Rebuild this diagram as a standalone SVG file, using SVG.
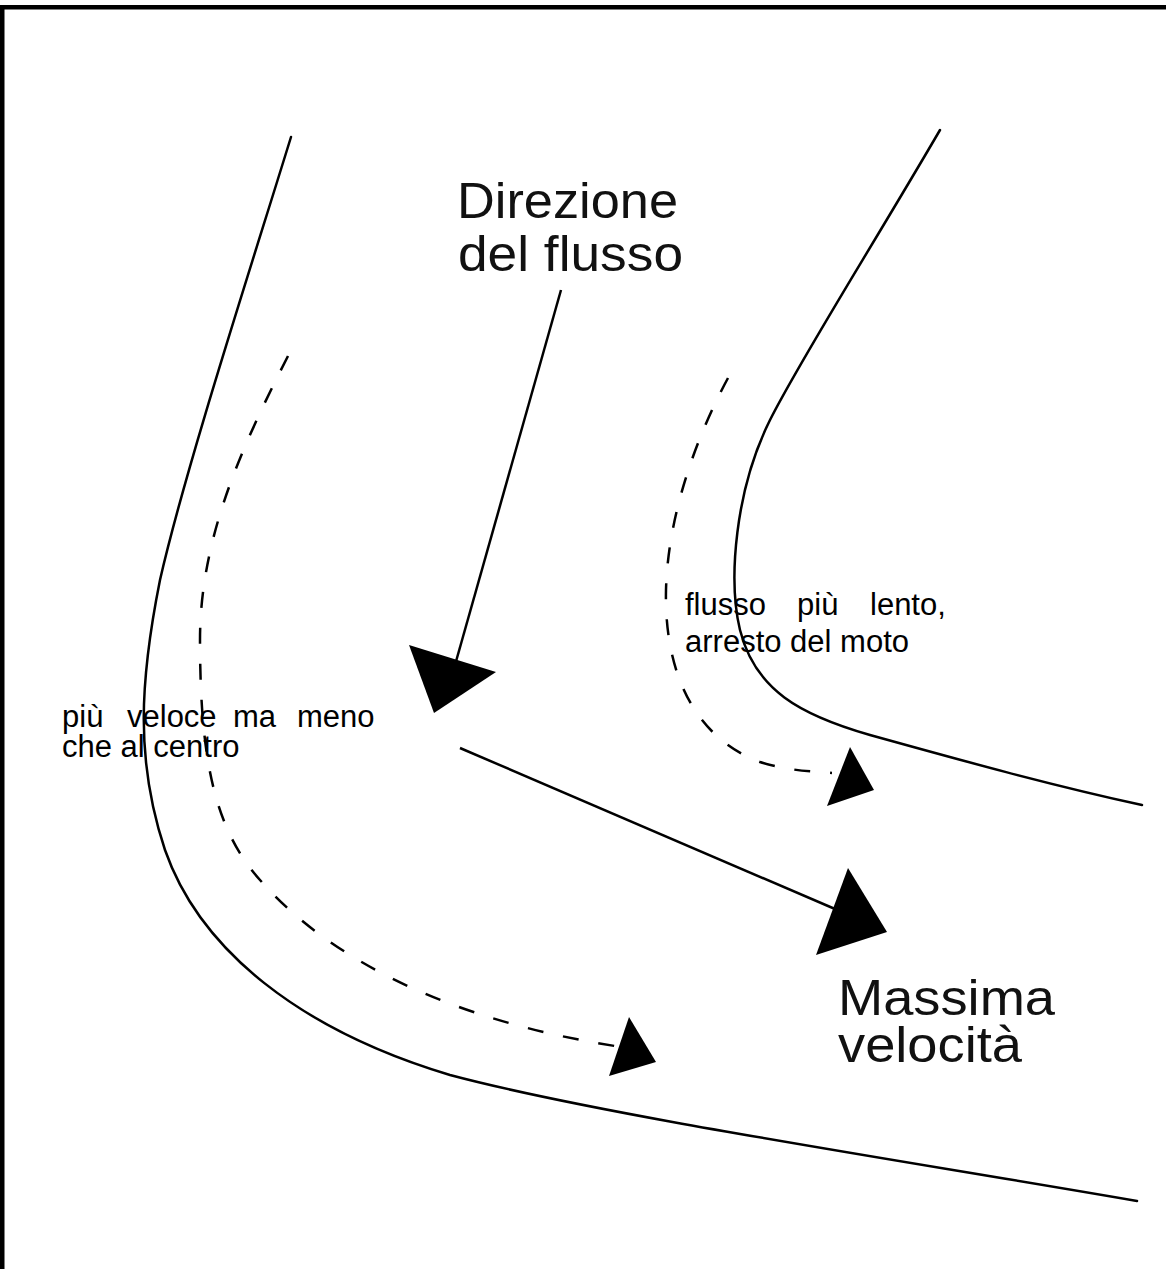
<svg xmlns="http://www.w3.org/2000/svg" width="1166" height="1269" viewBox="0 0 1166 1269">
<style>
.bank{fill:none;stroke:#000;stroke-width:2.5;stroke-linecap:round}
.flow{fill:none;stroke:#000;stroke-width:2.5;stroke-dasharray:16 20}
.conn{fill:none;stroke:#000;stroke-width:2.5}
.head{fill:#000}
.big{font-family:"Liberation Sans",Arial,sans-serif;font-size:50px;fill:#111}
.small{font-family:"Liberation Sans",Arial,sans-serif;font-size:31px;fill:#000}
</style>
<rect width="1166" height="1269" fill="#fff"/>
<g id="frame">
<rect x="0" y="5" width="1166" height="4.5" fill="#000"/>
<rect x="0" y="5" width="4.5" height="1264" fill="#000"/>
</g>
<g id="banks">
<path id="left-bank" class="bank" d="M291,137 C250,270 185,470 160,580 C140,680 135,760 165,850 C200,950 300,1030 450,1075 C600,1115 900,1160 1137,1201"/>
<path id="right-bank" class="bank" d="M940,130 C870,250 800,360 770,420 C735,490 728,580 740,630 C755,690 800,715 870,735 C960,760 1050,785 1142,805"/>
</g>
<g id="connectors">
<path id="flow-outer" class="flow" d="M288,356 C240,450 200,540 200,640 C200,760 215,830 260,880 C330,960 450,1020 615,1046"/>
<polygon class="head" points="629,1017 656,1062 609,1076"/>
<path id="flow-inner" class="flow" d="M728,378 C700,430 668,510 666,590 C664,680 700,740 760,762 C785,770 805,771 832,773"/>
<polygon class="head" points="850,747 874,790 827,806"/>
<line id="dir-arrow" class="conn" x1="561" y1="290" x2="455" y2="665"/>
<polygon class="head" points="409,645 496,672 434,713"/>
<line id="max-arrow" class="conn" x1="460" y1="748" x2="835" y2="909"/>
<polygon class="head" points="848,868 887,932 816,955"/>
</g>
<g id="label-direzione">
<text class="big"><tspan x="457" y="218" textLength="221" lengthAdjust="spacingAndGlyphs">Direzione</tspan><tspan x="458" y="271" textLength="225" lengthAdjust="spacingAndGlyphs">del flusso</tspan></text>
</g>
<g id="label-massima">
<text class="big"><tspan x="838" y="1015" textLength="217" lengthAdjust="spacingAndGlyphs">Massima</tspan><tspan x="838" y="1062" textLength="184" lengthAdjust="spacingAndGlyphs">velocità</tspan></text>
</g>
<g id="label-esterno">
<text class="small"><tspan x="62" y="727">più</tspan><tspan x="127" y="727">veloce</tspan><tspan x="233" y="727">ma</tspan><tspan x="297" y="727">meno</tspan><tspan x="62" y="757">che al centro</tspan></text>
</g>
<g id="label-interno">
<text class="small"><tspan x="685" y="615">flusso</tspan><tspan x="797" y="615">più</tspan><tspan x="870" y="615">lento,</tspan><tspan x="685" y="652">arresto del moto</tspan></text>
</g>
</svg>
